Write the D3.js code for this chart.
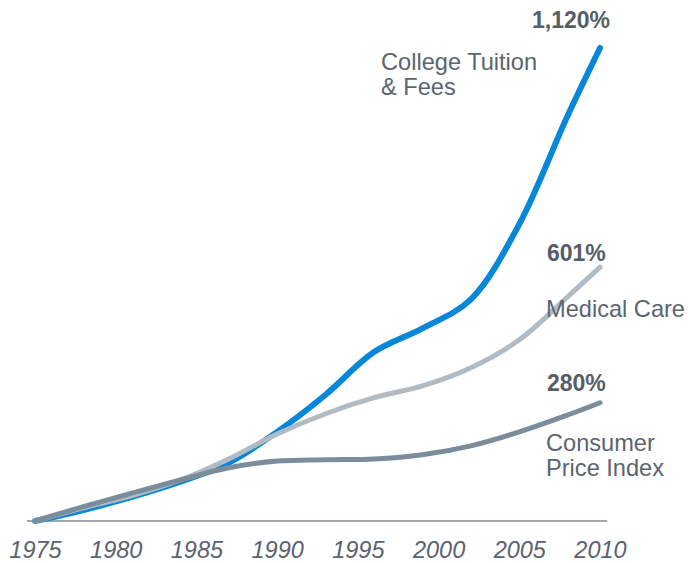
<!DOCTYPE html>
<html>
<head>
<meta charset="utf-8">
<script src="https://cdn.jsdelivr.net/npm/d3@7"></script>
<style>
  body { margin: 0; background: #fff; }
  svg { display: block; font-family: "Liberation Sans", Arial, sans-serif; }
</style>
</head>
<body>
<div id="chart"></div>
<script>
// years
let years = [1975, 1978, 1981, 1984, 1987, 1990, 1993, 1996, 1999, 2002, 2005, 2008, 2010];

// cumulative % increase since 1975
let tuition = [0, 26, 57, 93, 138, 211, 299, 400, 456, 525, 703, 960, 1120];
let medical = [0, 31, 60, 97, 147, 206, 254, 292, 320, 363, 429, 531, 601];
let cpi     = [0, 34, 66, 97, 126, 142, 145, 147, 157, 178, 211, 251, 280];

let tickYears = [1975, 1980, 1985, 1990, 1995, 2000, 2005, 2010];

let endLabels = ["1,120%", "601%", "280%"];
let seriesNames = [["College Tuition", "& Fees"], ["Medical Care"], ["Consumer", "Price Index"]];

let width = 690;
let height = 563;

let svg = d3.select("#chart")
    .append("svg")
    .attr("width", width)
    .attr("height", height);

let xScale = d3.scaleLinear()
    .domain([1975, 2010])
    .range([35, 600]);

let yScale = d3.scaleLinear()
    .domain([0, 1120])
    .range([521, 48]);

// baseline
svg.append("line")
    .attr("x1", xScale(1974.5))
    .attr("x2", xScale(2010.45))
    .attr("y1", yScale(0))
    .attr("y2", yScale(0))
    .attr("stroke", "#a3a6aa")
    .attr("stroke-width", 2);

// x axis labels only
let xAxis = d3.axisBottom(xScale)
    .tickValues(tickYears)
    .tickFormat(d3.format("d"))
    .tickSize(0)
    .tickPadding(20);

let axisG = svg.append("g")
    .attr("transform", "translate(0," + yScale(0) + ")")
    .call(xAxis);
axisG.select(".domain").remove();
axisG.selectAll("text")
    .style("font-family", "'Liberation Sans', Arial, sans-serif")
    .style("font-size", "23.5px")
    .style("font-style", "italic")
    .style("fill", "#5a6270");

let line = d3.line()
    .x(function(d, i) { return xScale(years[i]); })
    .y(function(d) { return yScale(d); })
    .curve(d3.curveCatmullRom.alpha(0.5));

// drawn bottom to top: tuition, medical, cpi
let series = [
    {values: tuition, color: "#0787d8", width: 6},
    {values: medical, color: "#b1bbc3", width: 5},
    {values: cpi, color: "#7b8c9b", width: 5}
];

svg.selectAll(".series")
    .data(series)
    .enter()
    .append("path")
    .attr("class", "series")
    .attr("d", function(d) { return line(d.values); })
    .attr("fill", "none")
    .attr("stroke", function(d) { return d.color; })
    .attr("stroke-width", function(d) { return d.width; })
    .attr("stroke-linecap", "round")
    .attr("stroke-linejoin", "round");

// percent labels
let pctPos = [
    {x: 532, y: 28},
    {x: 547, y: 261},
    {x: 547, y: 391}
];
svg.selectAll(".pct")
    .data(endLabels)
    .enter()
    .append("text")
    .attr("class", "pct")
    .attr("x", function(d, i) { return pctPos[i].x; })
    .attr("y", function(d, i) { return pctPos[i].y; })
    .text(function(d) { return d; })
    .style("font-size", "23px")
    .style("font-weight", "bold")
    .style("fill", "#555d66");

// series names
let namePos = [
    {x: 381, y: 70},
    {x: 546, y: 317},
    {x: 546, y: 451}
];
seriesNames.forEach(function(lines, i) {
    let t = svg.append("text")
        .attr("x", namePos[i].x)
        .attr("y", namePos[i].y)
        .style("font-size", "23.6px")
        .style("fill", "#5b6470");
    lines.forEach(function(s, j) {
        t.append("tspan")
            .attr("x", namePos[i].x)
            .attr("dy", j === 0 ? 0 : 25)
            .text(s);
    });
});
</script>
</body>
</html>
